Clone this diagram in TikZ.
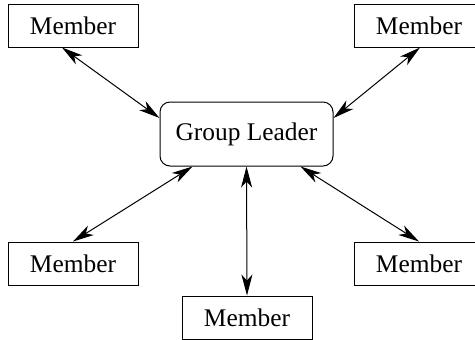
\documentclass[tikz,border=0pt]{standalone}
\usepackage{fontspec}
\setmainfont{Liberation Serif}
\usetikzlibrary{arrows.meta}

\tikzset{
  member/.style={draw,line width=0.5pt,minimum width=65pt,minimum height=21.5pt,inner sep=0pt,font=\fontsize{12.7}{15}\selectfont},
  leader/.style={draw,line width=0.5pt,rounded corners=5pt,minimum width=86.5pt,minimum height=32pt,inner sep=0pt,font=\fontsize{12.7}{15}\selectfont},
  link/.style={line width=0.5pt,{Stealth[length=10.5pt,width=5.5pt,inset=3pt]}-{Stealth[length=10.5pt,width=5.5pt,inset=3pt]}}
}

\begin{document}
\begin{tikzpicture}[x=0.5pt,y=-0.5pt]
    \useasboundingbox (0,0) rectangle (475,339);

    \node[leader] (gl) at (246.5,134) {Group Leader};

    \node[member] (m1) at (73,25.5) {Member};
    \node[member] (m2) at (419,25.5) {Member};
    \node[member] (m3) at (73,263.5) {Member};
    \node[member] (m4) at (419,263.5) {Member};
    \node[member] (m5) at (247,317.5) {Member};

    \draw[link] ([xshift=-5.5pt]m1.south) -- ([yshift=8pt]gl.west);
    \draw[link] ([xshift=0.5pt]m2.south) -- ([yshift=8pt]gl.east);
    \draw[link] (m3.north) -- ([xshift=-27pt]gl.south);
    \draw[link] (m4.north) -- ([xshift=27pt]gl.south);
    \draw[link] (gl.south) -- (m5.north);
\end{tikzpicture}
\end{document}
